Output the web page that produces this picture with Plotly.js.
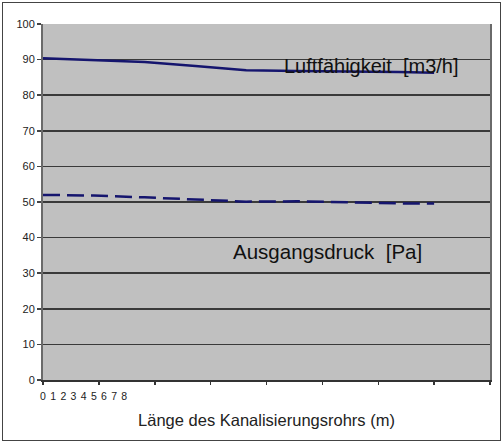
<!DOCTYPE html>
<html>
<head>
<meta charset="utf-8">
<script src="https://cdn.plot.ly/plotly-3.0.1.min.js"></script>
<style>
  html, body { margin: 0; padding: 0; background: #fff; }
  #wrap { position: relative; width: 504px; height: 443px; }
  #chart { position: absolute; left: 0; top: 0; width: 504px; height: 443px; }
  #frame { position: absolute; left: 2px; top: 2px; width: 497px; height: 437px;
           border: 1px solid #444; pointer-events: none; }
</style>
</head>
<body>
<div id="wrap">
  <div id="chart"></div>
  <div id="frame"></div>
</div>
<script>
// Position along the pipe (in axis units) and the two measured series
const positions = [0, 5, 10, 15, 17, 20, 25, 30, 35, 38.5];
const luftfaehigkeit = [90.4, 89.9, 89.3, 88.2, 87.7, 87.0, 86.8, 86.7, 86.5, 86.3];
const ausgangsdruck = [52.0, 51.8, 51.3, 50.8, 50.6, 50.1, 50.2, 49.8, 49.6, 49.6];

const tickLabels = ['0', '1', '2', '3', '4', '5', '6', '7', '8'];
const tickPositions = tickLabels.map((t, i) => i);

const seriesNames = ['Luftfähigkeit  [m3/h]', 'Ausgangsdruck  [Pa]'];
const xTitle = 'Länge des Kanalisierungsrohrs (m)';

const FONT = 'Liberation Sans, Arial, sans-serif';
const LINE_COLOR = '#15156e';

const traces = [
    {
        x: positions,
        y: luftfaehigkeit,
        type: 'scatter',
        mode: 'lines',
        name: seriesNames[0],
        line: { color: LINE_COLOR, width: 2.5 },
        xaxis: 'x',
        yaxis: 'y',
        hoverinfo: 'skip'
    },
    {
        x: positions,
        y: ausgangsdruck,
        type: 'scatter',
        mode: 'lines',
        name: seriesNames[1],
        line: { color: LINE_COLOR, width: 2.5, dash: '17px,7px' },
        xaxis: 'x2',
        yaxis: 'y',
        hoverinfo: 'skip'
    }
];

const layout = {
    width: 504,
    height: 443,
    margin: { l: 43, r: 14, t: 24, b: 63 },
    paper_bgcolor: '#ffffff',
    plot_bgcolor: '#c0c0c0',
    font: { family: FONT, color: '#222', size: 11 },
    showlegend: false,
    xaxis: {
        range: [0, 44],
        tickmode: 'array',
        tickvals: tickPositions,
        ticktext: tickLabels,
        ticks: 'outside',
        ticklen: 5,
        tickcolor: 'rgba(0,0,0,0)',
        showgrid: false,
        zeroline: false,
        showline: true,
        linecolor: '#333',
        linewidth: 2,
        tickfont: { family: FONT, size: 10.5, color: '#222' },
        title: { text: xTitle, font: { family: FONT, size: 16.5, color: '#222' }, standoff: 14 },
        fixedrange: true
    },
    xaxis2: {
        overlaying: 'x',
        anchor: 'y',
        side: 'bottom',
        range: [0, 44],
        tickmode: 'linear',
        tick0: 0,
        dtick: 5.5,
        ticks: 'outside',
        ticklen: 4,
        tickwidth: 1.5,
        tickcolor: '#333',
        showticklabels: false,
        showgrid: false,
        zeroline: false,
        showline: false,
        fixedrange: true
    },
    yaxis: {
        range: [0, 100],
        tickmode: 'linear',
        tick0: 0,
        dtick: 10,
        ticks: 'outside',
        ticklen: 4,
        tickwidth: 1.5,
        tickcolor: '#444',
        showgrid: true,
        gridcolor: '#3a3a3a',
        gridwidth: 1.5,
        zeroline: false,
        showline: true,
        linecolor: '#6a6a6a',
        linewidth: 2,
        mirror: true,
        tickfont: { family: FONT, size: 11, color: '#222' },
        fixedrange: true
    },
    annotations: [
        {
            xref: 'paper', yref: 'paper',
            x: 0.535, y: 0.882,
            xanchor: 'left', yanchor: 'middle',
            text: seriesNames[0],
            showarrow: false,
            font: { family: FONT, size: 20, color: '#111' }
        },
        {
            xref: 'paper', yref: 'paper',
            x: 0.42, y: 0.362,
            xanchor: 'left', yanchor: 'middle',
            text: seriesNames[1],
            showarrow: false,
            font: { family: FONT, size: 20.5, color: '#111' }
        }
    ]
};

Plotly.newPlot('chart', traces, layout, { displayModeBar: false, staticPlot: true });
</script>
</body>
</html>
